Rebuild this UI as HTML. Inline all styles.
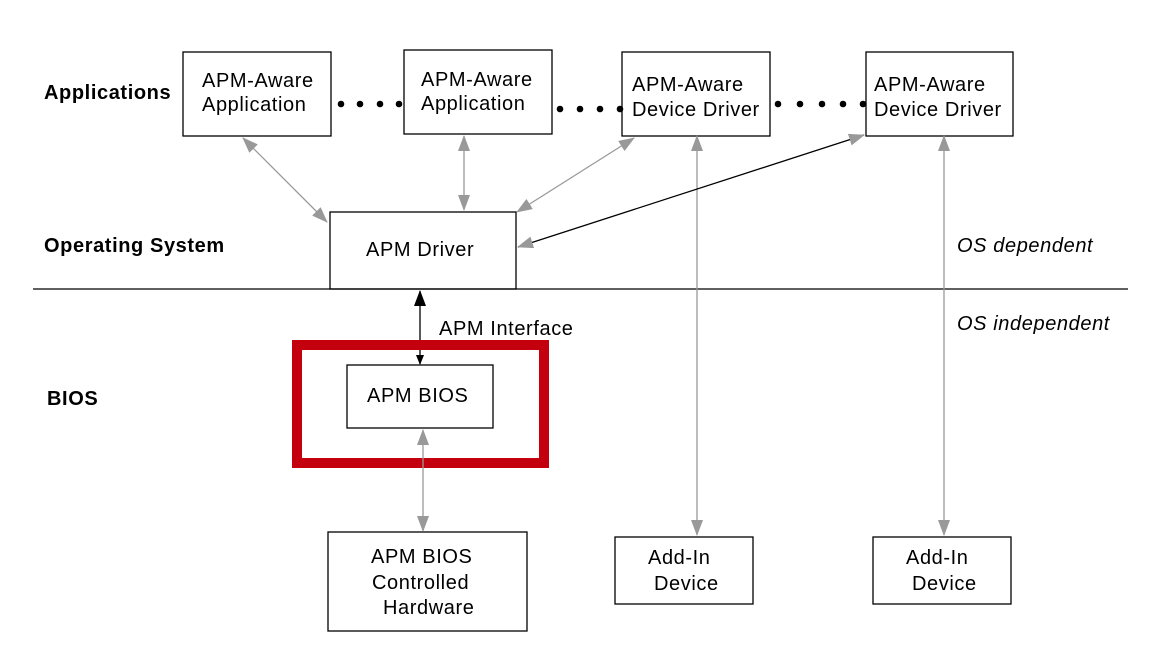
<!DOCTYPE html>
<html><head><style>
body{margin:0;background:#fff;}
svg text{font-family:"Liberation Sans",sans-serif;font-size:20px;letter-spacing:0.6px;fill:#000;}
</style></head><body>
<svg width="1153" height="654" viewBox="0 0 1153 654" xmlns="http://www.w3.org/2000/svg">
<defs>
<marker id="g" markerWidth="16" markerHeight="12" refX="15" refY="6" orient="auto-start-reverse" markerUnits="userSpaceOnUse"><path d="M0,0 L16,6 L0,12 z" fill="#999"/></marker>
<marker id="b" markerWidth="16" markerHeight="12" refX="15" refY="6" orient="auto-start-reverse" markerUnits="userSpaceOnUse"><path d="M0,0 L16,6 L0,12 z" fill="#000"/></marker>
<marker id="bs" markerWidth="10" markerHeight="8" refX="9" refY="4" orient="auto" markerUnits="userSpaceOnUse"><path d="M0,0 L10,4 L0,8 z" fill="#000"/></marker>
</defs>
<g fill="none" stroke="#000" stroke-width="1.3">
<rect x="183" y="52" width="148" height="84"/>
<rect x="404" y="50" width="148" height="84"/>
<rect x="622" y="52" width="148" height="84"/>
<rect x="866" y="52" width="147" height="84"/>
<rect x="330" y="212" width="186" height="77"/>
<rect x="347" y="365" width="146" height="63"/>
<rect x="328" y="532" width="199" height="99"/>
<rect x="615" y="537" width="138" height="67"/>
<rect x="873" y="537" width="138" height="67"/>
<line x1="33" y1="289" x2="1128" y2="289"/>
</g>
<rect x="297" y="345" width="247" height="118" fill="none" stroke="#c4000e" stroke-width="10"/>
<g fill="#000">
<circle cx="341" cy="104" r="3.3"/><circle cx="360" cy="104" r="3.3"/><circle cx="380" cy="104" r="3.3"/><circle cx="399" cy="104" r="3.3"/>
<circle cx="560" cy="109" r="3.3"/><circle cx="580" cy="109" r="3.3"/><circle cx="600" cy="109" r="3.3"/><circle cx="620" cy="109" r="3.3"/>
<circle cx="778" cy="104" r="3.3"/><circle cx="800" cy="104" r="3.3"/><circle cx="822" cy="104" r="3.3"/><circle cx="843" cy="104" r="3.3"/><circle cx="863" cy="104" r="3.3"/>
</g>
<g stroke="#999" stroke-width="1.3" fill="none">
<line x1="243" y1="138" x2="327" y2="222" marker-start="url(#g)" marker-end="url(#g)"/>
<line x1="464" y1="136" x2="464" y2="210" marker-start="url(#g)" marker-end="url(#g)"/>
<line x1="634" y1="138" x2="517" y2="212" marker-start="url(#g)" marker-end="url(#g)"/>
<line x1="697" y1="136" x2="697" y2="535" marker-start="url(#g)" marker-end="url(#g)"/>
<line x1="944" y1="136" x2="944" y2="535" marker-start="url(#g)" marker-end="url(#g)"/>
<line x1="423" y1="430" x2="423" y2="531" marker-start="url(#g)" marker-end="url(#g)"/>
</g>
<line x1="864" y1="135" x2="518" y2="247" stroke="#000" stroke-width="1.3" marker-start="url(#g)" marker-end="url(#g)"/>
<line x1="420" y1="291" x2="420" y2="340" stroke="#000" stroke-width="1.3" marker-start="url(#b)"/>
<line x1="420" y1="350" x2="420" y2="364" stroke="#000" stroke-width="1.3" marker-end="url(#bs)"/>
<text x="44" y="99" font-weight="bold">Applications</text>
<text x="44" y="252" font-weight="bold">Operating System</text>
<text x="47" y="405" font-weight="bold">BIOS</text>
<text x="202" y="87">APM-Aware</text><text x="202" y="111">Application</text>
<text x="421" y="86">APM-Aware</text><text x="421" y="110">Application</text>
<text x="632" y="91">APM-Aware</text><text x="632" y="116">Device Driver</text>
<text x="874" y="91">APM-Aware</text><text x="874" y="116">Device Driver</text>
<text x="366" y="256">APM Driver</text>
<text x="439" y="335">APM Interface</text>
<text x="367" y="402">APM  BIOS</text>
<text x="371" y="563">APM BIOS</text><text x="372" y="589">Controlled</text><text x="383" y="614">Hardware</text>
<text x="648" y="564">Add-In</text><text x="654" y="590">Device</text>
<text x="906" y="564">Add-In</text><text x="912" y="590">Device</text>
<text x="957" y="252" font-style="italic">OS dependent</text>
<text x="957" y="330" font-style="italic">OS independent</text>
</svg>
</body></html>
